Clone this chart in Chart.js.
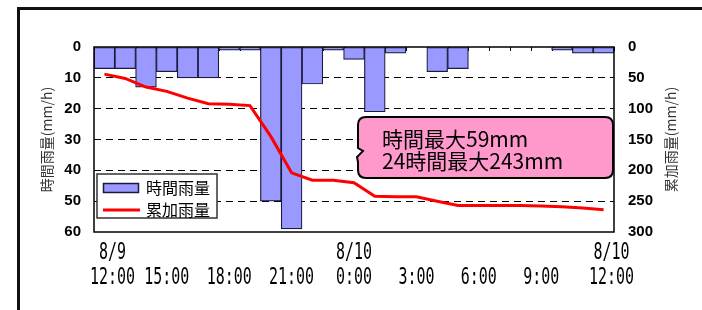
<!DOCTYPE html>
<html>
<head>
<meta charset="utf-8">
<script src="https://cdn.jsdelivr.net/npm/chart.js@4.4.1/dist/chart.umd.min.js"></script>
<style>
  html, body { margin: 0; padding: 0; background: #fff; }
  #wrap { width: 702px; height: 310px; position: relative; }
</style>
</head>
<body>
<div id="wrap"><canvas id="myChart"></canvas></div>
<script>
// 8/9 12:00 -> 8/10 12:00, hourly
const hours = ['8/9 12:00', '13:00', '14:00', '15:00', '16:00', '17:00', '18:00', '19:00', '20:00',
    '21:00', '22:00', '23:00', '8/10 0:00', '1:00', '2:00', '3:00', '4:00', '5:00', '6:00',
    '7:00', '8:00', '9:00', '10:00', '11:00', '8/10 12:00']

const hourlyRain = [7, 7, 13, 8, 10, 10, 1, 1, 50, 59, 12, 1, 4, 21, 2, 0, 8, 7, 0, 0, 0, 0, 1, 2, 2]
const totalRain = [44, 51, 65, 72, 83, 92, 93, 95, 145, 204, 216, 216, 220, 242, 243, 243, 250, 257,
    257, 257, 257, 258, 259, 261, 264]

// x tick labels every 3 hours (top line = date, bottom line = time)
const tickIndex = [0, 3, 6, 9, 12, 15, 18, 21, 24]
const tickDate = ['8/9', '', '', '', '8/10', '', '', '', '8/10']
const tickTime = ['12:00', '15:00', '18:00', '21:00', '0:00', '3:00', '6:00', '9:00', '12:00']

const leftTitle = '時間雨量(mm/h)'
const rightTitle = '累加雨量(mm/h)'
const calloutLines = ['時間最大59mm', '24時間最大243mm']

const barFill = '#9999ff'
const barEdge = '#1a1a3a'
const lineColor = '#ff0000'
const jp = '"Noto Sans CJK JP", "Noto Sans", sans-serif'

const drawExtras = {
    id: 'drawExtras',
    beforeDatasetsDraw(chart) {
        const ctx = chart.ctx
        const area = chart.chartArea
        const xs = chart.scales.x
        const slot = xs.getPixelForValue(1) - xs.getPixelForValue(0)
        ctx.save()
        ctx.strokeStyle = '#000'
        ctx.lineWidth = 1
        for (let i = 0; i <= hours.length; i++) {
            const x = Math.round(xs.getPixelForValue(i) - slot / 2) + 0.5
            ctx.beginPath()
            ctx.moveTo(x, area.top)
            ctx.lineTo(x, area.top + 4)
            ctx.stroke()
        }
        ctx.restore()
    },
    afterDraw(chart) {
        const ctx = chart.ctx
        const area = chart.chartArea
        const xs = chart.scales.x
        ctx.save()

        // outer frame
        ctx.strokeStyle = '#111'
        ctx.lineWidth = 3
        ctx.strokeRect(18.5, 8.5, 800, 400)

        // plot border
        ctx.lineWidth = 1.5
        ctx.strokeStyle = '#000'
        ctx.strokeRect(area.left, area.top, area.right - area.left, area.bottom - area.top)

        // axis titles (both read bottom to top)
        ctx.fillStyle = '#333'
        ctx.font = '14px ' + jp
        ctx.textAlign = 'center'
        ctx.textBaseline = 'middle'
        const midY = (area.top + area.bottom) / 2
        ctx.save()
        ctx.translate(47, midY)
        ctx.rotate(-Math.PI / 2)
        ctx.fillText(leftTitle, 0, 0)
        ctx.restore()
        ctx.save()
        ctx.translate(671, midY)
        ctx.rotate(-Math.PI / 2)
        ctx.fillText(rightTitle, 0, 0)
        ctx.restore()

        // x labels, narrow monospace gothic look
        ctx.fillStyle = '#000'
        ctx.font = '23px "DejaVu Sans Mono", monospace'
        ctx.textBaseline = 'alphabetic'
        tickIndex.forEach((idx, k) => {
            let x = xs.getPixelForValue(idx)
            if (k === 0 || k === tickIndex.length - 1) x += 8
            ctx.save()
            ctx.translate(x, 0)
            ctx.scale(0.65, 1)
            ctx.fillText(tickDate[k], 0, 259)
            ctx.fillText(tickTime[k], 0, 284)
            ctx.restore()
        })

        // legend box
        ctx.fillStyle = '#fff'
        ctx.fillRect(97, 174, 120, 44)
        ctx.strokeStyle = '#333'
        ctx.lineWidth = 1.5
        ctx.strokeRect(97, 174, 120, 44)
        ctx.fillStyle = barFill
        ctx.strokeStyle = barEdge
        ctx.fillRect(103.5, 183.5, 35, 9)
        ctx.strokeRect(103.5, 183.5, 35, 9)
        ctx.strokeStyle = lineColor
        ctx.lineWidth = 3
        ctx.beginPath()
        ctx.moveTo(103, 210)
        ctx.lineTo(140, 210)
        ctx.stroke()
        ctx.fillStyle = '#000'
        ctx.font = '16px ' + jp
        ctx.textAlign = 'left'
        ctx.textBaseline = 'middle'
        ctx.fillText(chart.data.datasets[1].label, 146, 188)
        ctx.fillText(chart.data.datasets[0].label, 146, 210)

        // callout
        const bx = 358, by = 117, bw = 255, bh = 61, r = 8
        ctx.beginPath()
        ctx.moveTo(bx + r, by)
        ctx.lineTo(bx + bw - r, by)
        ctx.quadraticCurveTo(bx + bw, by, bx + bw, by + r)
        ctx.lineTo(bx + bw, by + bh - r)
        ctx.quadraticCurveTo(bx + bw, by + bh, bx + bw - r, by + bh)
        ctx.lineTo(bx + r, by + bh)
        ctx.quadraticCurveTo(bx, by + bh, bx, by + bh - r)
        ctx.lineTo(bx, 162)
        ctx.lineTo(bx - 1, 157)
        ctx.lineTo(bx + 5, 151)
        ctx.lineTo(bx, 148)
        ctx.lineTo(bx, by + r)
        ctx.quadraticCurveTo(bx, by, bx + r, by)
        ctx.closePath()
        ctx.fillStyle = '#ff99cc'
        ctx.fill()
        ctx.strokeStyle = '#000'
        ctx.lineWidth = 2
        ctx.stroke()
        ctx.fillStyle = '#000'
        ctx.font = '21px ' + jp
        ctx.textBaseline = 'alphabetic'
        ctx.fillText(calloutLines[0], 382, 147)
        ctx.fillText(calloutLines[1], 382, 169)

        ctx.restore()
    }
}

const myChart = document.getElementById('myChart')

new Chart(myChart, {
    data: {
        labels: hours,
        datasets: [
            {
                type: 'line',
                label: '累加雨量',
                data: totalRain,
                yAxisID: 'y1',
                borderColor: lineColor,
                borderWidth: 3,
                pointRadius: 0,
                tension: 0,
                order: 0
            },
            {
                type: 'bar',
                label: '時間雨量',
                data: hourlyRain,
                yAxisID: 'y',
                backgroundColor: barFill,
                borderColor: barEdge,
                borderWidth: 1.2,
                borderSkipped: false,
                barPercentage: 1,
                categoryPercentage: 1,
                order: 1
            }
        ]
    },
    options: {
        responsive: true,
        maintainAspectRatio: false,
        animation: false,
        layout: { padding: { top: 47, left: 0, right: 0, bottom: 0 } },
        plugins: { legend: { display: false }, tooltip: { enabled: false } },
        scales: {
            x: {
                offset: true,
                grid: { display: false },
                border: { display: false },
                ticks: { display: false },
                afterFit: (s) => { s.height = 78 }
            },
            y: {
                position: 'left',
                reverse: true,
                min: 0,
                max: 60,
                ticks: {
                    stepSize: 10,
                    padding: 13,
                    color: '#000',
                    font: { family: '"Liberation Sans", Arial, sans-serif', size: 15, weight: 'bold' }
                },
                grid: {
                    drawTicks: false,
                    lineWidth: 1,
                    color: (c) => (c.tick && (c.tick.value === 0 || c.tick.value === 60)) ? 'rgba(0,0,0,0)' : '#000'
                },
                border: { display: false, dash: [7, 5] },
                afterFit: (s) => { s.width = 94 }
            },
            y1: {
                position: 'right',
                reverse: true,
                min: 0,
                max: 300,
                ticks: {
                    stepSize: 50,
                    padding: 14,
                    color: '#000',
                    font: { family: '"Liberation Sans", Arial, sans-serif', size: 15, weight: 'bold' }
                },
                grid: { display: false, drawTicks: false },
                border: { display: false },
                afterFit: (s) => { s.width = 88 }
            }
        }
    },
    plugins: [drawExtras]
})
</script>
</body>
</html>
